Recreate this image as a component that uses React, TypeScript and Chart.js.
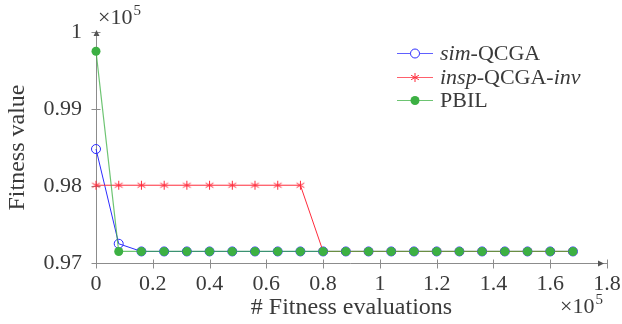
import { useEffect, useRef } from 'react';
import { Chart, registerables } from 'chart.js';

Chart.register(...registerables);

// ---- data (fitness values in raw units, x in number of evaluations) ----
const evaluations = [
  0, 8000, 16000, 24000, 32000, 40000, 48000, 56000, 64000, 72000, 80000,
  88000, 96000, 104000, 112000, 120000, 128000, 136000, 144000, 152000, 160000, 168000,
];
const simQCGA = [
  98480, 97250, 97150, 97150, 97150, 97150, 97150, 97150, 97150, 97150, 97150,
  97150, 97150, 97150, 97150, 97150, 97150, 97150, 97150, 97150, 97150, 97150,
];
const inspQCGAinv = [
  98010, 98010, 98010, 98010, 98010, 98010, 98010, 98010, 98010, 98010, 97150,
  97150, 97150, 97150, 97150, 97150, 97150, 97150, 97150, 97150, 97150, 97150,
];
const pbil = [
  99750, 97150, 97150, 97150, 97150, 97150, 97150, 97150, 97150, 97150, 97150,
  97150, 97150, 97150, 97150, 97150, 97150, 97150, 97150, 97150, 97150, 97150,
];
const xTickValues = [0, 20000, 40000, 60000, 80000, 100000, 120000, 140000, 160000, 180000];
const xTickLabels = ['0', '0.2', '0.4', '0.6', '0.8', '1', '1.2', '1.4', '1.6', '1.8'];
const yTickValues = [97000, 98000, 99000, 100000];
const yTickLabels = ['0.97', '0.98', '0.99', '1'];
const xTitle = '# Fitness evaluations';
const yTitle = 'Fitness value';

const FONT = "'Liberation Serif', 'DejaVu Serif', serif";
const TEXT = '#3a3a3a';
const AXIS = '#8c8c8c';
const BLUE = '#2b2bff';
const RED = '#ff2b3b';
const GREEN = '#3cb043';

function drawAsterisk(ctx: CanvasRenderingContext2D, cx: number, cy: number, r: number, color: string) {
  ctx.save();
  ctx.strokeStyle = color;
  ctx.lineWidth = 1;
  ctx.beginPath();
  for (let k = 0; k < 3; k++) {
    const ang = Math.PI / 2 + (k * Math.PI) / 3;
    ctx.moveTo(cx + r * Math.cos(ang), cy - r * Math.sin(ang));
    ctx.lineTo(cx - r * Math.cos(ang), cy + r * Math.sin(ang));
  }
  ctx.stroke();
  ctx.restore();
}

function makeAsteriskImage(color: string) {
  const c = document.createElement('canvas');
  c.width = 11;
  c.height = 11;
  const g = c.getContext('2d')!;
  drawAsterisk(g, 5.5, 5.5, 4.5, color);
  return c;
}

function drawTimesTen(ctx: CanvasRenderingContext2D, x: number, baseline: number) {
  ctx.save();
  ctx.fillStyle = TEXT;
  ctx.textAlign = 'left';
  ctx.textBaseline = 'alphabetic';
  ctx.font = `22px ${FONT}`;
  const main = '×10';
  ctx.fillText(main, x, baseline);
  const w = ctx.measureText(main).width;
  ctx.font = `15px ${FONT}`;
  ctx.fillText('5', x + w + 1, baseline - 9);
  ctx.restore();
}

const pgfPlugin = {
  id: 'pgfDecor',
  beforeDatasetsDraw(chart: any) {
    const { ctx, chartArea: a, scales } = chart;
    const xs = scales.x;
    const ys = scales.y;
    ctx.save();
    ctx.strokeStyle = AXIS;
    ctx.lineWidth = 1;
    const ax = Math.round(a.left) + 0.5;
    const ay = Math.round(a.bottom) + 0.5;
    ctx.beginPath();
    ctx.moveTo(ax, ay + 3);
    ctx.lineTo(ax, a.top);
    ctx.moveTo(ax - 3, ay);
    ctx.lineTo(a.right, ay);
    ctx.stroke();
    ctx.beginPath();
    for (const v of yTickValues) {
      const py = Math.round(ys.getPixelForValue(v)) + 0.5;
      ctx.moveTo(ax - 5, py);
      ctx.lineTo(ax + (v === yTickValues[0] ? 0 : 4), py);
    }
    for (const v of xTickValues) {
      const px = Math.round(xs.getPixelForValue(v)) + 0.5;
      ctx.moveTo(px, ay + 5);
      ctx.lineTo(px, ay - (v === xTickValues[0] ? 0 : 4));
    }
    ctx.stroke();
    ctx.beginPath();
    ctx.moveTo(ax, a.top - 2);
    ctx.lineTo(ax - 3, a.top + 4);
    ctx.lineTo(ax + 3, a.top + 4);
    ctx.closePath();
    ctx.moveTo(a.right - 3, ay);
    ctx.lineTo(a.right - 9, ay - 3);
    ctx.lineTo(a.right - 9, ay + 3);
    ctx.closePath();
    ctx.fillStyle = '#555';
    ctx.fill();
    ctx.restore();
  },
  afterDraw(chart: any) {
    const { ctx, chartArea: a } = chart;
    drawTimesTen(ctx, a.left + 2, 24);
    drawTimesTen(ctx, a.right - 47, 313);

    const entries = [
      { parts: [['sim', true], ['-QCGA', false]], color: BLUE, marker: 'circle' },
      { parts: [['insp', true], ['-QCGA-', false], ['inv', true]], color: RED, marker: 'asterisk' },
      { parts: [['PBIL', false]], color: GREEN, marker: 'dot' },
    ];
    const lx0 = 397;
    const lx1 = 433;
    const mx = 415;
    const tx = 440;
    const rows = [53, 77, 100];
    ctx.save();
    entries.forEach((e, i) => {
      const y = rows[i];
      ctx.strokeStyle = e.color;
      ctx.globalAlpha = 0.75;
      ctx.lineWidth = 1;
      ctx.beginPath();
      ctx.moveTo(lx0, y + 0.5);
      ctx.lineTo(lx1, y + 0.5);
      ctx.stroke();
      ctx.globalAlpha = 1;
      if (e.marker === 'circle') {
        ctx.beginPath();
        ctx.arc(mx, y + 0.5, 4.5, 0, Math.PI * 2);
        ctx.fillStyle = '#fff';
        ctx.fill();
        ctx.strokeStyle = BLUE;
        ctx.stroke();
      } else if (e.marker === 'asterisk') {
        drawAsterisk(ctx, mx, y + 0.5, 4.5, RED);
      } else {
        ctx.beginPath();
        ctx.arc(mx, y + 0.5, 4.5, 0, Math.PI * 2);
        ctx.fillStyle = GREEN;
        ctx.fill();
      }
      let x = tx;
      ctx.fillStyle = TEXT;
      ctx.textBaseline = 'middle';
      ctx.textAlign = 'left';
      for (const [txt, ital] of e.parts as [string, boolean][]) {
        ctx.font = `${ital ? 'italic ' : ''}22px ${FONT}`;
        ctx.fillText(txt, x, y + 1);
        x += ctx.measureText(txt).width;
      }
    });
    ctx.restore();
  },
};

export default function App() {
  const ref = useRef<HTMLCanvasElement | null>(null);

  useEffect(() => {
    if (!ref.current) return;
    let chart: Chart | null = null;
    let cancelled = false;
    const build = () => {
      if (cancelled || !ref.current) return;
      const asterisk = makeAsteriskImage(RED);
      const toPts = (vals: number[]) => vals.map((v, i) => ({ x: evaluations[i], y: v }));
      chart = new Chart(ref.current, {
        type: 'line',
        data: {
          datasets: [
            {
              label: 'sim-QCGA',
              data: toPts(simQCGA),
              borderColor: BLUE,
              borderWidth: 1,
              pointStyle: 'circle',
              pointRadius: 4.5,
              pointBorderWidth: 1,
              pointBorderColor: BLUE,
              pointBackgroundColor: 'rgba(255,255,255,0)',
              tension: 0,
              clip: false as any,
              order: 2,
            },
            {
              label: 'insp-QCGA-inv',
              data: toPts(inspQCGAinv),
              borderColor: RED,
              borderWidth: 1,
              pointStyle: asterisk as any,
              pointRadius: 5,
              tension: 0,
              clip: false as any,
              order: 1,
            },
            {
              label: 'PBIL',
              data: toPts(pbil),
              borderColor: 'rgba(60,176,67,0.75)',
              backgroundColor: GREEN,
              borderWidth: 1.2,
              pointStyle: 'circle',
              pointRadius: 4.5,
              pointBorderWidth: 0,
              pointBackgroundColor: GREEN,
              tension: 0,
              clip: false as any,
              order: 0,
            },
          ],
        },
        options: {
          animation: false,
          responsive: false,
          maintainAspectRatio: false,
          events: [],
          layout: { padding: { top: 32, right: 15, left: 0, bottom: 0 } },
          plugins: { legend: { display: false }, tooltip: { enabled: false } },
          scales: {
            x: {
              type: 'linear',
              min: 0,
              max: 180000,
              grid: { display: false },
              border: { display: false },
              afterBuildTicks: (s: any) => {
                s.ticks = xTickValues.map((v) => ({ value: v }));
              },
              afterFit: (s: any) => {
                s.height = 61;
              },
              ticks: {
                autoSkip: false,
                maxRotation: 0,
                padding: 0,
                color: TEXT,
                font: { family: FONT, size: 22 },
                callback: (v: any) => xTickLabels[xTickValues.indexOf(Number(v))] ?? '',
              },
              title: {
                display: true,
                text: xTitle,
                color: TEXT,
                font: { family: FONT, size: 24 },
                padding: { top: 0, bottom: 2 },
              },
            },
            y: {
              type: 'linear',
              min: 97000,
              max: 100000,
              grid: { display: false },
              border: { display: false },
              afterBuildTicks: (s: any) => {
                s.ticks = yTickValues.map((v) => ({ value: v }));
              },
              afterFit: (s: any) => {
                s.width = 96;
              },
              ticks: {
                autoSkip: false,
                padding: 6,
                color: TEXT,
                font: { family: FONT, size: 22 },
                callback: (v: any) => yTickLabels[yTickValues.indexOf(Number(v))] ?? '',
              },
              title: {
                display: true,
                text: yTitle,
                color: TEXT,
                font: { family: FONT, size: 24 },
                padding: { top: 3, bottom: 0 },
              },
            },
          },
        },
        plugins: [pgfPlugin],
      });
    };
    const fonts = (document as any).fonts;
    if (fonts && fonts.load) {
      Promise.all([
        fonts.load("22px 'Liberation Serif'"),
        fonts.load("italic 22px 'Liberation Serif'"),
      ])
        .catch(() => null)
        .then(build);
    } else {
      build();
    }
    return () => {
      cancelled = true;
      if (chart) chart.destroy();
    };
  }, []);

  return (
    <div style={{ position: 'fixed', left: 0, top: 0, width: 622, height: 324, background: '#fff' }}>
      <canvas ref={ref} width={622} height={324} style={{ width: 622, height: 324, display: 'block' }} />
    </div>
  );
}
